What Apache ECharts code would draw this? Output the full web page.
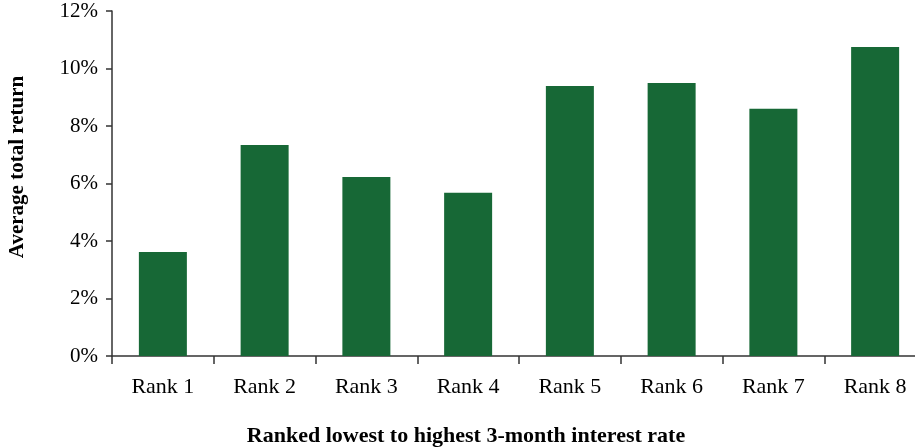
<!DOCTYPE html>
<html>
<head>
<meta charset="utf-8">
<script src="https://cdn.jsdelivr.net/npm/echarts@6/dist/echarts.min.js"></script>
<style>
  html, body { margin: 0; padding: 0; background: #fff; }
  #chart { width: 915px; height: 447px; }
</style>
</head>
<body>
<div id="chart"></div>
<script>
// Average total return by 3-month interest rate rank
const categories = ['Rank 1', 'Rank 2', 'Rank 3', 'Rank 4', 'Rank 5', 'Rank 6', 'Rank 7', 'Rank 8'];
const avgReturn = [3.62, 7.34, 6.23, 5.68, 9.39, 9.50, 8.60, 10.75];
const yTicks = { min: 0, max: 12, interval: 2 };

const serif = '"Liberation Serif", "DejaVu Serif", serif';
const axisColor = '#333333';

const chart = echarts.init(document.getElementById('chart'), null, { renderer: 'canvas' });
chart.setOption({
  animation: false,
  backgroundColor: '#ffffff',
  // plot area runs slightly past the right edge of the canvas
  grid: {
    left: 112, width: 814, top: 11, height: 345,
    containLabel: false,
    outerBoundsMode: 'none'
  },
  xAxis: {
    type: 'category',
    data: categories,
    boundaryGap: true,
    axisLine: { show: true, lineStyle: { color: axisColor, width: 1.5 } },
    axisTick: { show: true, length: 8, lineStyle: { color: axisColor, width: 1.5 } },
    axisLabel: { color: '#000', fontFamily: serif, fontSize: 22, margin: 20 }
  },
  yAxis: {
    type: 'value',
    min: yTicks.min,
    max: yTicks.max,
    interval: yTicks.interval,
    axisLine: { show: true, lineStyle: { color: axisColor, width: 1.5 } },
    axisTick: { show: true, length: 6, lineStyle: { color: axisColor, width: 1.5 } },
    splitLine: { show: false },
    axisLabel: { color: '#000', fontFamily: serif, fontSize: 21, margin: 14, formatter: '{value}%' }
  },
  series: [{
    type: 'bar',
    data: avgReturn,
    barWidth: 48,
    itemStyle: { color: '#176836' }
  }],
  graphic: [
    {
      type: 'text',
      x: 466, y: 436,
      style: {
        text: 'Ranked lowest to highest 3-month interest rate',
        font: 'bold 22px ' + serif,
        fill: '#000',
        align: 'center',
        verticalAlign: 'middle'
      }
    },
    {
      type: 'text',
      x: 18, y: 167,
      rotation: Math.PI / 2,
      style: {
        text: 'Average total return',
        font: 'bold 21px ' + serif,
        fill: '#000',
        align: 'center',
        verticalAlign: 'middle'
      }
    }
  ]
});
</script>
</body>
</html>
